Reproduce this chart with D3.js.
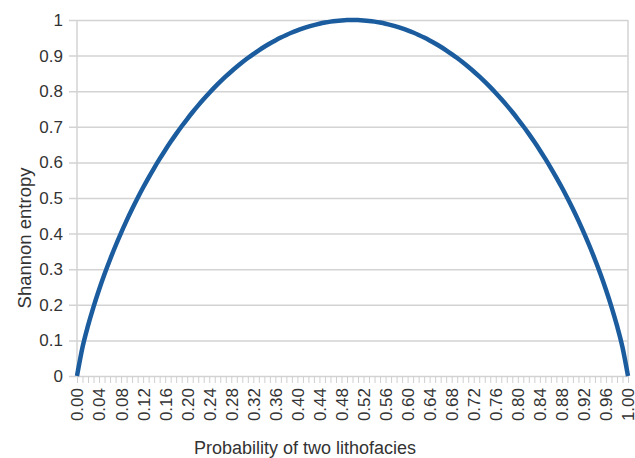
<!DOCTYPE html>
<html>
<head>
<meta charset="utf-8">
<script src="https://cdn.jsdelivr.net/npm/d3@7"></script>
<style>
  body { margin: 0; background: #fff; }
  svg text { font-family: "Liberation Sans", Arial, sans-serif; fill: #333; }
</style>
</head>
<body>
<div id="chart"></div>
<script>
// Probability values (x) and entropy (y)
var probs = d3.range(0, 101).map(function(i) { return i / 100; });
var entropyLeft = [
  0.0000, 0.0808, 0.1414, 0.1944, 0.2423, 0.2864, 0.3274, 0.3659, 0.4022, 0.4365,
  0.4690, 0.4999, 0.5294, 0.5574, 0.5842, 0.6098, 0.6343, 0.6577, 0.6801, 0.7015,
  0.7219, 0.7415, 0.7602, 0.7780, 0.7950, 0.8113, 0.8267, 0.8415, 0.8555, 0.8687,
  0.8813, 0.8932, 0.9044, 0.9149, 0.9248, 0.9341, 0.9427, 0.9507, 0.9580, 0.9648,
  0.9710, 0.9765, 0.9815, 0.9858, 0.9896, 0.9928, 0.9954, 0.9974, 0.9988, 0.9997,
  1.0000
];
var entropyRight = [
  0.9997, 0.9988, 0.9974, 0.9954, 0.9928, 0.9896, 0.9858, 0.9815, 0.9765, 0.9710,
  0.9648, 0.9580, 0.9507, 0.9427, 0.9341, 0.9248, 0.9149, 0.9044, 0.8932, 0.8813,
  0.8687, 0.8555, 0.8415, 0.8267, 0.8113, 0.7950, 0.7780, 0.7602, 0.7415, 0.7219,
  0.7015, 0.6801, 0.6577, 0.6343, 0.6098, 0.5842, 0.5574, 0.5294, 0.4999, 0.4690,
  0.4365, 0.4022, 0.3659, 0.3274, 0.2864, 0.2423, 0.1944, 0.1414, 0.0808, 0.0000
];
var entropy = entropyLeft.concat(entropyRight);

var yTicks = [0, 0.1, 0.2, 0.3, 0.4, 0.5, 0.6, 0.7, 0.8, 0.9, 1];
var xLabelTicks = d3.range(0, 26).map(function(i) { return i * 4 / 100; });

var xTitle = "Probability of two lithofacies";
var yTitle = "Shannon entropy";

var data = probs.map(function(p, i) { return { p: p, h: entropy[i] }; });

// canvas
var width = 635, height = 458;
var margin = {top: 20, right: 7, bottom: 82, left: 77};
var plotW = width - margin.left - margin.right,
    plotH = height - margin.top - margin.bottom;

var svg = d3.select("#chart")
  .append("svg")
    .attr("width", width)
    .attr("height", height);

var g = svg.append("g")
    .attr("transform", "translate(" + margin.left + "," + margin.top + ")");

var x = d3.scaleLinear().domain([0, 1]).range([0, plotW]);
var y = d3.scaleLinear().domain([0, 1]).range([plotH, 0]);

// Y axis with gridlines
var yAxis = g.append("g")
    .call(d3.axisLeft(y)
      .tickValues(yTicks)
      .tickSize(-plotW)
      .tickPadding(14)
      .tickFormat(function(d) { return d === 0 || d === 1 ? String(d) : d3.format(".1f")(d); }));
yAxis.select(".domain").remove();
yAxis.selectAll(".tick line")
    .attr("x1", -8)
    .attr("stroke", "#d3d3d3")
    .attr("stroke-width", 1.5);
yAxis.selectAll(".tick text")
    .style("font-size", "17px")
    .attr("fill", "#333");

// left and right borders
g.append("line")
    .attr("x1", 0).attr("x2", 0).attr("y1", 0).attr("y2", plotH)
    .attr("stroke", "#d3d3d3").attr("stroke-width", 1.5);
g.append("line")
    .attr("x1", plotW).attr("x2", plotW).attr("y1", 0).attr("y2", plotH)
    .attr("stroke", "#d3d3d3").attr("stroke-width", 1.5);

// X axis minor ticks every 0.01
var xMinor = g.append("g")
    .attr("transform", "translate(0," + plotH + ")")
    .call(d3.axisBottom(x).tickValues(probs).tickSize(7).tickFormat(""));
xMinor.select(".domain").remove();
xMinor.selectAll(".tick line").attr("stroke", "#cfcfcf").attr("stroke-width", 1);

// X axis labels every 0.04, rotated
var xAxis = g.append("g")
    .attr("transform", "translate(0," + plotH + ")")
    .call(d3.axisBottom(x).tickValues(xLabelTicks).tickSize(0).tickFormat(d3.format(".2f")));
xAxis.select(".domain").remove();
xAxis.selectAll(".tick text")
    .style("font-size", "17px")
    .attr("fill", "#333")
    .attr("text-anchor", "end")
    .attr("dy", "0.35em")
    .attr("transform", "translate(0,12) rotate(-90)")
    .attr("x", 0)
    .attr("y", 0);

// entropy curve
var valueline = d3.line()
    .x(function(d) { return x(d.p); })
    .y(function(d) { return y(d.h); })
    .curve(d3.curveMonotoneX);

g.append("path")
    .datum(data)
    .attr("fill", "none")
    .attr("stroke", "#1a5c9e")
    .attr("stroke-width", 4.5)
    .attr("d", valueline);

// axis titles
svg.append("text")
    .attr("x", 305)
    .attr("y", 454)
    .attr("text-anchor", "middle")
    .style("font-size", "18px")
    .attr("fill", "#222")
    .text(xTitle);

svg.append("text")
    .attr("transform", "translate(31,238) rotate(-90)")
    .attr("text-anchor", "middle")
    .style("font-size", "18.5px")
    .attr("fill", "#222")
    .text(yTitle);
</script>
</body>
</html>
